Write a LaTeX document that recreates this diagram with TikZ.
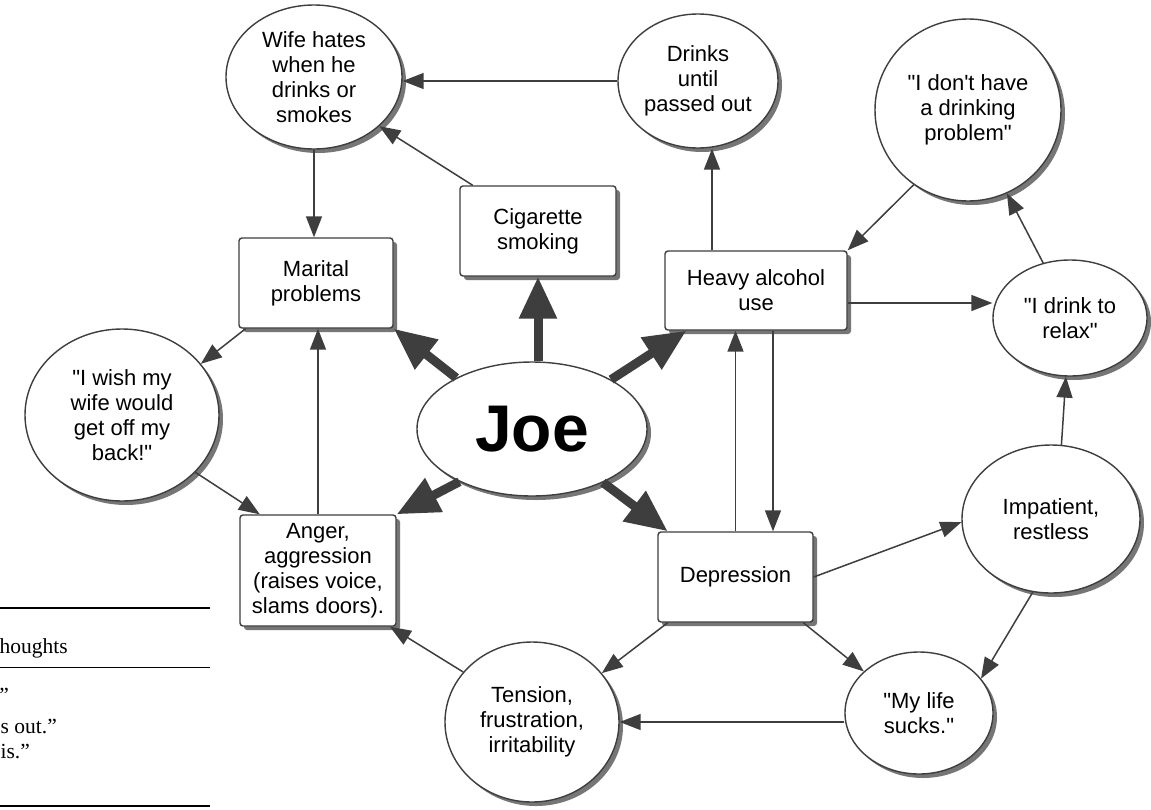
\documentclass[tikz,border=0pt]{standalone}
\usepackage{fontspec}
\setmainfont{Liberation Sans}
% a family without the TeX input mapping, so that " and ' stay straight
\newfontfamily\labelfont{Liberation Sans}
\newfontfamily\tabserif{Liberation Serif}
\usetikzlibrary{shapes.geometric,shadows,arrows.meta,calc}

\definecolor{ink}{RGB}{62,62,62}
\definecolor{shade}{RGB}{118,118,118}

\begin{document}
\begin{tikzpicture}[x=1pt,y=-1pt,
  every node/.style={font=\labelfont\fontsize{22}{25}\selectfont, align=center, text=black},
  base/.style={draw=ink, line width=1.4pt, fill=white,
    drop shadow={shadow xshift=4pt, shadow yshift=-4pt, fill=shade, opacity=1}},
  oval/.style={base, ellipse, inner sep=0pt},
  card/.style={base, rectangle, rounded corners=3pt, inner sep=0pt},
  link/.style={draw=ink, line width=1.5pt, -{Triangle[length=21pt,width=16pt]}},
  push/.style={draw=ink, line width=9pt, -{Triangle[length=42pt,width=36pt]}},
  tabtext/.style={font=\tabserif\fontsize{21.5}{25}\selectfont, inner sep=0pt, anchor=base east},
]
\fill[white] (0,0) rectangle (1151,809);
\useasboundingbox (0,0) rectangle (1151,809);

% nodes
\node[oval, minimum width=176pt, minimum height=144pt] (wife) at (314,77) {Wife hates\\when he\\drinks or\\smokes};
\node[oval, minimum width=160pt, minimum height=134pt] (drinks) at (698,81) {Drinks\\until\\passed out};
\node[oval, minimum width=186pt, minimum height=182pt] (idont) at (968,110) {"I don't have\\a drinking\\problem"};
\node[card, minimum width=156pt, minimum height=90pt] (cig) at (538,231) {Cigarette\\smoking};
\node[card, minimum width=154pt, minimum height=90pt] (marital) at (316,283) {Marital\\problems};
\node[card, minimum width=182pt, minimum height=79pt] (heavy) at (756,290.5) {Heavy alcohol\\use};
\node[oval, minimum width=154pt, minimum height=116pt] (relax) at (1070,318) {"I drink to\\relax"};
\node[oval, minimum width=194pt, minimum height=172pt] (iwish) at (122,415) {"I wish my\\wife would\\get off my\\back!"};
\node[oval, minimum width=230pt, minimum height=134pt] (joe) at (532,429) {\fontsize{66}{70}\selectfont\bfseries Joe};
\node[card, minimum width=156pt, minimum height=111pt] (anger) at (318,570.5) {Anger,\\aggression\\(raises voice,\\slams doors).};
\node[card, minimum width=155pt, minimum height=90pt] (dep) at (735.5,577) {Depression};
\node[oval, minimum width=178pt, minimum height=148pt] (imp) at (1051,519) {Impatient,\\restless};
\node[oval, minimum width=148pt, minimum height=122pt] (mylife) at (919,713) {"My life\\sucks."};
\node[oval, minimum width=174pt, minimum height=160pt] (tension) at (532,722) {Tension,\\frustration,\\irritability};

% thin connectors
\draw[link] (drinks.west) -- (drinks.west -| wife.east);
\draw[link] (cig.145) -- (wife.-37);
\draw[link] (wife.south) -- (wife.south |- marital.north);
\draw[link] (marital.-147) -- (iwish.33);
\draw[link] (iwish.-38) -- (anger.136);
\draw[link] (anger.north) -- (anger.north |- marital.south);
\draw[link] ($(heavy.north west)!0.26!(heavy.north east)$) coordinate (hd) -- (hd |- drinks.south);
\draw[link] (idont.234) -- (heavy.north east);
\draw[link] ($(heavy.east)+(0,12.5)$) coordinate (hr) -- (hr -| relax.west);
\draw[link] (relax.116) -- (idont.-65);
\draw[link] (dep.north) -- (dep.north |- heavy.south);
\draw[link] ($(heavy.south)+(17,0)$) coordinate (hu) -- (hu |- dep.north);
\draw[link] (dep.east) -- (imp.182);
\draw[link] (imp.82) -- (relax.-94);
\draw[link] (imp.-104) -- (mylife.29);
\draw[link] (dep.-34) -- (mylife.143);
\draw[link] (tension.east -| mylife.west) -- (tension.east);
\draw[link] (dep.214) -- (tension.35);
\draw[link] (tension.144) -- (anger.-38);

% thick connectors from the centre
\draw[push] (joe.146) -- (marital.south east);
\draw[push] (joe.north -| cig.south) -- (cig.south);
\draw[push] (joe.32) -- (heavy.210);
\draw[push] (joe.216) -- (anger.north east);
\draw[push] (joe.-37) -- (dep.146);

% table fragment at the lower left
\draw[line width=2.2pt] (0,608) -- (210,608);
\draw[line width=1pt] (0,667) -- (210,667);
\draw[line width=1.8pt] (0,806) -- (210,806);
\node[tabtext] (t1) at (68,653) {houghts};
\node[tabtext] (t2) at (9,702) {”};
\node[tabtext] (t3) at (57,733) {s out.”};
\node[tabtext] (t4) at (30,758) {is.”};
\end{tikzpicture}
\end{document}
